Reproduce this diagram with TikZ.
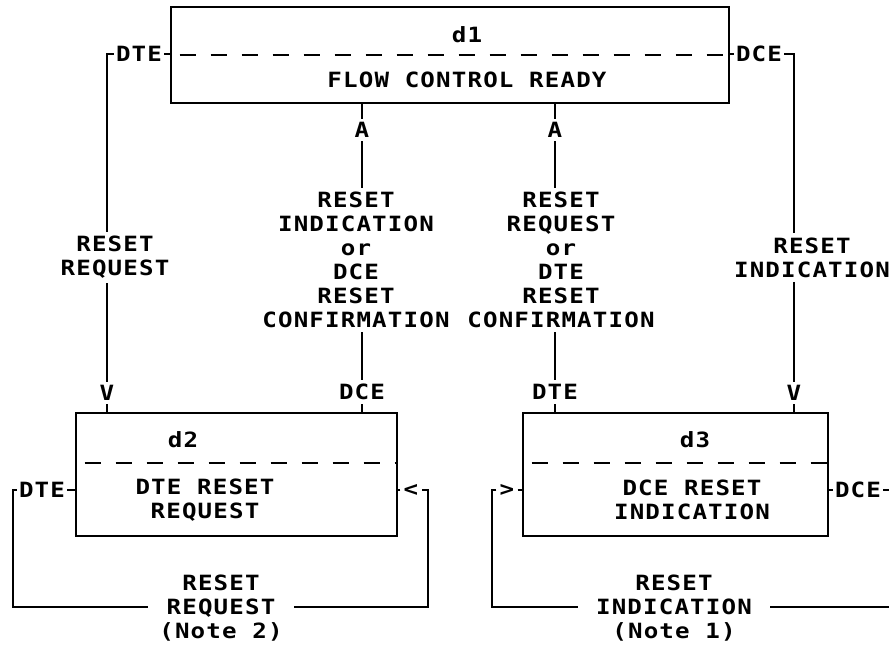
\documentclass[tikz,border=0pt]{standalone}
\usepackage{fontspec}
\newfontfamily\mono[LetterSpace=5.5,FakeStretch=1.15]{DejaVu Sans Mono}
\newfontfamily\monoch[FakeStretch=1.15]{DejaVu Sans Mono}
\begin{document}
\begin{tikzpicture}[x=1pt,y=-1pt,line width=2.8pt,
  lbl/.style={font=\mono\bfseries\fontsize{21}{24}\selectfont, inner sep=3pt, align=center},
  ch/.style={font=\monoch\bfseries\fontsize{21}{24}\selectfont, inner sep=2pt},
  statebox/.style={draw, inner sep=0pt, line width=2.8pt},
  dashline/.style={line width=2.8pt, dash pattern=on 16pt off 15pt}]
\useasboundingbox (0,0) rectangle (889,649);
% boxes
\node[statebox, minimum width=558pt, minimum height=96pt] (d1) at (450,55) {};
\node[statebox, minimum width=321pt, minimum height=123pt] (d2) at (236.5,474.5) {};
\node[statebox, minimum width=305pt, minimum height=123pt] (d3) at (675.5,474.5) {};
\draw[dashline, dash phase=-10pt] (d1.west) -- (d1.east);
\draw[dashline, dash phase=-10pt] ([yshift=11.5pt]d2.west) -- ([yshift=11.5pt]d2.east);
\draw[dashline, dash phase=-10pt] ([yshift=11.5pt]d3.west) -- ([yshift=11.5pt]d3.east);
\node[lbl] (d1t) at (467,35) {d1};
\node[lbl] (d1n) at (467,80) {FLOW CONTROL READY};
\node[lbl] (d2t) at (183,440) {d2};
\node[lbl] (d2n) at (205,500) {DTE RESET\\REQUEST};
\node[lbl] (d3t) at (695,440) {d3};
\node[lbl] (d3n) at (692,500) {DCE RESET\\INDICATION};
% top outer connectors
\node[lbl, inner sep=1pt] (dteA) at (139,54) {DTE};
\node[lbl, inner sep=1pt] (dceA) at (759,54) {DCE};
\coordinate (cA) at (107,54);
\coordinate (cB) at (794,54);
\node[lbl] (rrq) at (115,257.5) {RESET\\REQUEST};
\node[lbl] (rind) at (812,257.5) {RESET\\INDICATION};
\node[ch] (vL) at (107,393) {V};
\node[ch] (vR) at (794,393) {V};
\draw (dteA.east) -- (dteA.east -| d1.west);
\draw (dteA.west) -- (cA) -- (cA |- rrq.north);
\draw (cA |- rrq.south) -- (vL.north);
\draw (vL.south) -- (vL.south |- d2.north);
\draw (dceA.west) -- (dceA.west -| d1.east);
\draw (dceA.east) -- (cB) -- (cB |- rind.north);
\draw (cB |- rind.south) -- (vR.north);
\draw (vR.south) -- (vR.south |- d3.north);
% middle connectors
\node[ch] (aL) at (362,130) {A};
\node[lbl] (midL) at (356,260) {RESET\\INDICATION\\or\\DCE\\RESET\\CONFIRMATION};
\node[lbl] (dceM) at (362,392) {DCE};
\draw (aL.north) -- (aL.north |- d1.south);
\draw (aL.south) -- (aL.south |- midL.north);
\draw (aL |- midL.south) -- (dceM.north);
\draw (dceM.south) -- (dceM.south |- d2.north);
\node[ch] (aR) at (555,130) {A};
\node[lbl] (midR) at (561,260) {RESET\\REQUEST\\or\\DTE\\RESET\\CONFIRMATION};
\node[lbl] (dteM) at (555,392) {DTE};
\draw (aR.north) -- (aR.north |- d1.south);
\draw (aR.south) -- (aR.south |- midR.north);
\draw (aR |- midR.south) -- (dteM.north);
\draw (dteM.south) -- (dteM.south |- d3.north);
% bottom left loop
\node[lbl, inner sep=1pt] (dteB) at (42,490) {DTE};
\coordinate (cC) at (13,490);
\coordinate (cD) at (13,607);
\node[lbl, inner xsep=10pt] (noteL) at (221,608) {RESET\\REQUEST\\(Note 2)};
\coordinate (cE) at (428,490);
\coordinate (cF) at (428,607);
\node[ch] (ltL) at (411,490) {<};
\draw (dteB.east) -- (dteB.east -| d2.west);
\draw (dteB.west) -- (cC) -- (cD) -- (noteL.west |- cD);
\draw (noteL.east |- cF) -- (cF) -- (cE) -- (ltL.east);
\draw (ltL.west) -- (ltL.west -| d2.east);
% bottom right loop
\node[ch] (gtR) at (507,490) {>};
\coordinate (cG) at (492,490);
\coordinate (cH) at (492,607);
\node[lbl, inner xsep=17pt] (noteR) at (674,608) {RESET\\INDICATION\\(Note 1)};
\coordinate (cI) at (889,607);
\node[lbl, inner sep=1pt] (dceB) at (858,490) {DCE};
\coordinate (cJ) at (889,490);
\draw (gtR.east) -- (gtR.east -| d3.west);
\draw (gtR.west) -- (cG) -- (cH) -- (noteR.west |- cH);
\draw (noteR.east |- cI) -- (cI);
\draw (dceB.west) -- (dceB.west -| d3.east);
\draw (dceB.east) -- (cJ);
\end{tikzpicture}
\end{document}
